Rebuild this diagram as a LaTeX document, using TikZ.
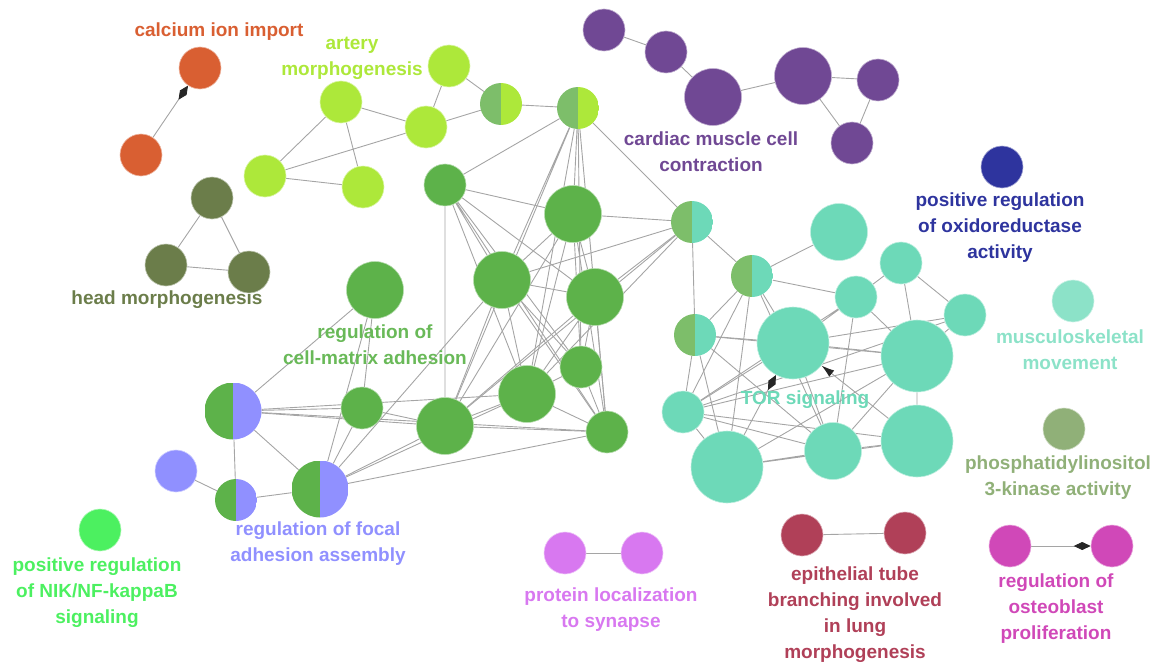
\documentclass[tikz,border=0pt]{standalone}
\usepackage{fontspec}
\setmainfont{Liberation Sans}
\usetikzlibrary{arrows.meta,backgrounds}

% cluster colours
\definecolor{cOrange}{RGB}{217,95,50}
\definecolor{cLime}{RGB}{173,232,58}
\definecolor{cOlive}{RGB}{107,125,74}
\definecolor{cPurple}{RGB}{112,72,148}
\definecolor{cNavy}{RGB}{46,52,158}
\definecolor{cGreen}{RGB}{93,178,74}
\definecolor{cLabelGreen}{RGB}{105,185,88}
\definecolor{cSoftGreen}{RGB}{125,190,106}
\definecolor{cTeal}{RGB}{109,217,184}
\definecolor{cPaleTeal}{RGB}{140,226,200}
\definecolor{cSage}{RGB}{144,176,120}
\definecolor{cBright}{RGB}{76,240,96}
\definecolor{cLilac}{RGB}{144,144,255}
\definecolor{cPink}{RGB}{216,120,240}
\definecolor{cWine}{RGB}{176,64,88}
\definecolor{cMagenta}{RGB}{208,72,184}
\definecolor{cEdge}{RGB}{165,165,165}

\tikzset{
  term/.style={circle, inner sep=0pt, minimum size=42pt, fill=#1, draw=white!55!#1, line width=0.6pt},
  bigterm/.style={term=#1, minimum size=57pt},
  hugeterm/.style={term=#1, minimum size=72pt},
  split/.style 2 args={circle, inner sep=0pt, minimum size=42pt,
    path picture={
      \fill[#1] (path picture bounding box.south west) rectangle (path picture bounding box.north);
      \fill[#2] (path picture bounding box.south) rectangle (path picture bounding box.north east);}},
  bigsplit/.style 2 args={split={#1}{#2}, minimum size=57pt},
  lbl/.style={text=#1, font=\fontsize{19}{26}\selectfont\bfseries, align=center, inner sep=0pt},
  link/.style={draw=cEdge, line width=0.9pt},
  diamondlink/.style={link, -{Diamond[length=17pt, width=8pt, color=black!85, fill=black!85]}},
  pointlink/.style={link, -{Latex[length=13pt, width=8pt, color=black!85, fill=black!85]}},
}

\begin{document}
\begin{tikzpicture}[x=1pt, y=-1pt]
\useasboundingbox (0,0) rectangle (1158,666);

% calcium ion import
\node[term=cOrange] (c1) at (200,68) {};
\node[term=cOrange] (c2) at (141,155) {};

% artery morphogenesis
\node[term=cLime] (a1) at (449,66) {};
\node[term=cLime] (a2) at (341,102) {};
\node[term=cLime] (a3) at (426,127) {};
\node[term=cLime] (a4) at (265,176) {};
\node[term=cLime] (a5) at (363,187) {};
\node[split={cSoftGreen}{cLime}] (a6) at (501,104) {};
\node[split={cSoftGreen}{cLime}] (a7) at (578,108) {};

% head morphogenesis
\node[term=cOlive] (h1) at (212,198) {};
\node[term=cOlive] (h2) at (166,265) {};
\node[term=cOlive] (h3) at (249,272) {};

% cardiac muscle cell contraction
\node[term=cPurple] (p1) at (604,30) {};
\node[term=cPurple] (p2) at (666,52) {};
\node[bigterm=cPurple] (p3) at (713,97) {};
\node[bigterm=cPurple] (p4) at (803,76) {};
\node[term=cPurple] (p5) at (878,80) {};
\node[term=cPurple] (p6) at (852,143) {};

% single terms
\node[term=cNavy] (ox) at (1002,167) {};
\node[term=cPaleTeal] (mu) at (1073,301) {};
\node[term=cSage] (pk) at (1064,429) {};
\node[term=cBright] (nik) at (100,530) {};

% small pairs
\node[term=cPink] (pl1) at (565,553) {};
\node[term=cPink] (pl2) at (642,553) {};
\node[term=cWine] (ep1) at (802,535) {};
\node[term=cWine] (ep2) at (905,533) {};
\node[term=cMagenta] (os1) at (1010,546) {};
\node[term=cMagenta] (os2) at (1112,546) {};

% focal adhesion assembly
\node[term=cLilac] (f1) at (176,471) {};
\node[bigsplit={cGreen}{cLilac}] (f2) at (233,411) {};
\node[split={cGreen}{cLilac}] (f3) at (236,500) {};
\node[bigsplit={cGreen}{cLilac}] (f4) at (320,489) {};

% cell-matrix adhesion
\node[term=cGreen] (g1) at (445,185) {};
\node[bigterm=cGreen] (g2) at (573,214) {};
\node[bigterm=cGreen] (g3) at (502,280) {};
\node[bigterm=cGreen] (g4) at (595,297) {};
\node[bigterm=cGreen] (g5) at (375,290) {};
\node[term=cGreen] (g6) at (362,408) {};
\node[bigterm=cGreen] (g7) at (445,426) {};
\node[bigterm=cGreen] (g8) at (527,394) {};
\node[term=cGreen] (g9) at (581,367) {};
\node[term=cGreen] (g10) at (607,432) {};

% TOR signaling
\node[split={cSoftGreen}{cTeal}] (s1) at (692,222) {};
\node[split={cSoftGreen}{cTeal}] (s2) at (752,276) {};
\node[split={cSoftGreen}{cTeal}] (s3) at (695,335) {};
\node[bigterm=cTeal] (t1) at (839,232) {};
\node[term=cTeal] (t2) at (901,263) {};
\node[term=cTeal] (t3) at (856,297) {};
\node[term=cTeal] (t4) at (965,315) {};
\node[hugeterm=cTeal] (t5) at (793,343) {};
\node[hugeterm=cTeal] (t6) at (917,356) {};
\node[term=cTeal] (t7) at (683,412) {};
\node[hugeterm=cTeal] (t8) at (727,467) {};
\node[bigterm=cTeal] (t9) at (833,451) {};
\node[hugeterm=cTeal] (t10) at (917,441) {};

\begin{scope}[on background layer]
  % small groups
  \draw[diamondlink] (c2) -- (c1);
  \draw[link] (a1) -- (a3) (a1) -- (a6) (a2) -- (a3) (a2) -- (a4) (a2) -- (a5)
              (a4) -- (a5) (a4) -- (a3) (a3) -- (a6) (a6) -- (a7);
  \draw[link] (h1) -- (h2) (h1) -- (h3) (h2) -- (h3);
  \draw[link] (p1) -- (p2) (p2) -- (p3) (p3) -- (p4) (p4) -- (p5) (p4) -- (p6) (p5) -- (p6);
  \draw[link] (pl1) -- (pl2);
  \draw[link] (ep1) -- (ep2);
  \draw[diamondlink] (os1) -- (os2);

  % cell-matrix adhesion group
  \draw[link] (a7) -- (g1) (a7) -- (g2) (a7) -- (g3) (a7) -- (g4) (a7) -- (g7)
              (a7) -- (g8) (a7) -- (g9) (a7) -- (g10) (a7) -- (s1);
  \draw[link] (g1) -- (g2) (g1) -- (g3) (g1) -- (g4) (g1) -- (g7) (g1) -- (g8)
              (g1) -- (g9) (g1) -- (g10);
  \draw[link] (g2) -- (g3) (g2) -- (g4) (g2) -- (s1) (g2) -- (g8) (g2) -- (g9)
              (g2) -- (g10) (g2) -- (g7);
  \draw[link] (g3) -- (g4) (g3) -- (s1) (g3) -- (g7) (g3) -- (g8) (g3) -- (g9)
              (g3) -- (g10) (g3) -- (f4);
  \draw[link] (g4) -- (s1) (g4) -- (g8) (g4) -- (g9) (g4) -- (g10) (g4) -- (g7);
  \draw[link] (g5) -- (f2) (g5) -- (f4) (g5) -- (g6);
  \draw[link] (g6) -- (f2) (g6) -- (g7) (g6) -- (f4);
  \draw[link] (g7) -- (f2) (g7) -- (f4) (g7) -- (g8) (g7) -- (g10) (g7) -- (s1);
  \draw[link] (g8) -- (f2) (g8) -- (g9) (g8) -- (g10) (g8) -- (f4) (g8) -- (s1);
  \draw[link] (g9) -- (g10) (g10) -- (f2) (g10) -- (f4);
  \draw[link] (f1) -- (f3) (f2) -- (f3) (f2) -- (f4) (f3) -- (f4);

  % TOR signaling group
  \draw[link] (s1) -- (s2) (s1) -- (s3);
  \draw[link] (s2) -- (t1) (s2) -- (t3) (s2) -- (s3) (s2) -- (t5) (s2) -- (t7)
              (s2) -- (t8) (s2) -- (t9);
  \draw[link] (t2) -- (t3) (t2) -- (t4) (t2) -- (t6);
  \draw[link] (t3) -- (t6) (t3) -- (t9) (t3) -- (t7) (t3) -- (t5);
  \draw[link] (t4) -- (t6) (t4) -- (t5) (t4) -- (t7);
  \draw[link] (t5) -- (t6) (t5) -- (t7) (t5) -- (t9) (t5) -- (s3);
  \draw[link] (t6) -- (t10) (t6) -- (t7) (t6) -- (t8) (t6) -- (t9) (t6) -- (s3);
  \draw[link] (t7) -- (t8) (t7) -- (t9) (t7) -- (t10) (t7) -- (s3);
  \draw[link] (t8) -- (t9) (t8) -- (t10) (t8) -- (s3);
  \draw[link] (t9) -- (t10) (t9) -- (s3);
  \draw[diamondlink] (t8) -- (t5);
  \draw[pointlink] (t10) -- (t5);
\end{scope}

% labels
\node[lbl=cOrange] (lc) at (219,32) {calcium ion import};
\node[lbl=cLime] (la) at (352,58.5) {artery\\morphogenesis};
\node[lbl=cPurple] (lp) at (711,151.5) {cardiac muscle cell\\contraction};
\node[lbl=cNavy] (lo) at (1000,228) {positive regulation\\of oxidoreductase\\activity};
\node[lbl=cOlive] (lh) at (167,300) {head morphogenesis};
\node[lbl=cLabelGreen] (lg) at (375,345) {regulation of\\cell-matrix adhesion};
\node[lbl=cPaleTeal] (lm) at (1070,349.5) {musculoskeletal\\movement};
\node[lbl=cTeal] (lt) at (805,400) {TOR signaling};
\node[lbl=cSage] (lk) at (1058,478) {phosphatidylinositol\\3-kinase activity};
\node[lbl=cBright] (ln) at (97,593) {positive regulation\\of NIK/NF-kappaB\\signaling};
\node[lbl=cLilac] (lf) at (318,544) {regulation of focal\\adhesion assembly};
\node[lbl=cPink] (ll) at (611,610) {protein localization\\to synapse};
\node[lbl=cWine] (le) at (855,615) {epithelial tube\\branching involved\\in lung\\morphogenesis};
\node[lbl=cMagenta] (lb) at (1056,609) {regulation of\\osteoblast\\proliferation};
\end{tikzpicture}
\end{document}
